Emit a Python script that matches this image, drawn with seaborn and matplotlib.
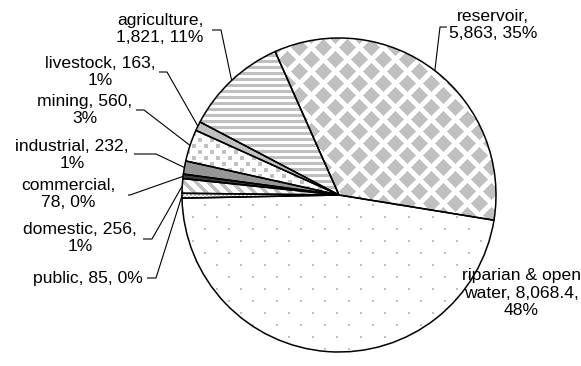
import numpy as np
import matplotlib
matplotlib.use("Agg")
import matplotlib.pyplot as plt
import seaborn as sns

# ---- data ----
categories = ["reservoir", "riparian & open water", "public", "domestic",
              "commercial", "industrial", "mining", "livestock", "agriculture"]
values = [5863, 8068.4, 85, 256, 78, 232, 560, 163, 1821]
percents = [35, 48, 0, 1, 0, 1, 3, 1, 11]

# ---- layout / style ----
sns.set_theme(style="white")
plt.rcParams["font.family"] = ["Liberation Sans", "DejaVu Sans"]

W, H = 581, 366
CX, CY, R = 339, H - 195, 157

fills = {
    "reservoir": "diamond", "riparian & open water": "dots", "public": "checker",
    "domestic": "diag", "commercial": "#3c3c3c", "industrial": "#969696",
    "mining": "confetti", "livestock": "#c0c0c0", "agriculture": "hstripe",
}
name_display = {"riparian & open water": "riparian & open\nwater"}
wrap_after = {"reservoir": [0], "riparian & open water": [1], "public": [],
              "domestic": [1], "commercial": [0], "industrial": [1],
              "mining": [1], "livestock": [1], "agriculture": [0]}
# label centre, leader start, leader elbow (image pixel coords)
label_layout = {
    "agriculture": ((160, 29), (212, 30), (221, 30)),
    "livestock": ((100, 72), (159, 72), (167, 72)),
    "mining": ((85, 110), (136, 110), (144, 110)),
    "industrial": ((72, 155), (134, 154), (156, 154)),
    "commercial": ((68, 194), (128, 195), (130, 195)),
    "domestic": ((80, 238), (143, 239), (152, 239)),
    "public": ((88, 278), (147, 278), (156, 278)),
    "reservoir": ((493, 25), (447, 27), (440, 27)),
    "riparian & open water": ((521, 293), None, None),
}

fig = plt.figure(figsize=(W / 100, H / 100), dpi=100)
ax = fig.add_axes([0, 0, 1, 1])

wedges, _ = ax.pie(values, startangle=114, counterclock=False,
                   center=(CX, CY), radius=R,
                   wedgeprops=dict(facecolor="none", edgecolor="black",
                                   linewidth=1.1, zorder=3))

rr, cc = np.mgrid[0:H, 0:W]
G = 0xc0 / 255.0


def texture(kind):
    img = np.ones((H, W, 3))
    if kind.startswith("#"):
        img[:] = matplotlib.colors.to_rgb(kind)
        return img
    if kind == "diamond":
        a = cc + rr + 14
        b = cc - rr + 12
        da = np.abs(((a + 12) % 24) - 12)
        db = np.abs(((b + 12) % 24) - 12)
        m = (da < 9) & (db < 9)
    elif kind == "dots":
        u, v = cc % 24, rr % 24
        m = ((u < 2) & (v < 2)) | ((u >= 12) & (u < 14) & (v >= 12) & (v < 14))
    elif kind == "hstripe":
        m = (rr % 6) < 3
    elif kind == "confetti":
        u, v = cc % 12, rr % 12
        m = ((u < 4) & (v < 4)) | ((u >= 6) & (u < 10) & (v >= 6) & (v < 10))
    elif kind == "diag":
        m = ((cc - rr) % 12) < 5
    elif kind == "checker":
        m = ((cc // 2 + rr // 2) % 2) == 0
    else:
        m = np.zeros((H, W), bool)
    img[m] = G
    return img


for w, cat in zip(wedges, categories):
    im = ax.imshow(texture(fills[cat]), extent=(0, W, 0, H), origin="upper",
                   interpolation="nearest", zorder=2)
    im.set_clip_path(w)


def fmt_val(v):
    return f"{v:,.1f}" if v != int(v) else f"{int(v):,}"


for w, cat, v, p in zip(wedges, categories, values, percents):
    parts = [name_display.get(cat, cat) + ",", fmt_val(v) + ",", f"{p}%"]
    txt = parts[0]
    for i in range(1, 3):
        txt += ("\n" if (i - 1) in wrap_after[cat] else " ") + parts[i]
    (tx, ty), start, elbow = label_layout[cat]
    ax.text(tx, H - ty, txt, ha="center", va="center", multialignment="center",
            fontsize=12.6, color="black", linespacing=1.2, zorder=5)
    if start is not None:
        th = np.deg2rad((w.theta1 + w.theta2) / 2)
        ex, ey = CX + R * np.cos(th), CY + R * np.sin(th)
        ax.plot([start[0], elbow[0], ex], [H - start[1], H - elbow[1], ey],
                color="black", lw=0.8, zorder=4, solid_capstyle="butt")

ax.set_xlim(0, W)
ax.set_ylim(0, H)
ax.set_aspect("equal")
ax.axis("off")
fig.savefig("out.png", dpi=100)
